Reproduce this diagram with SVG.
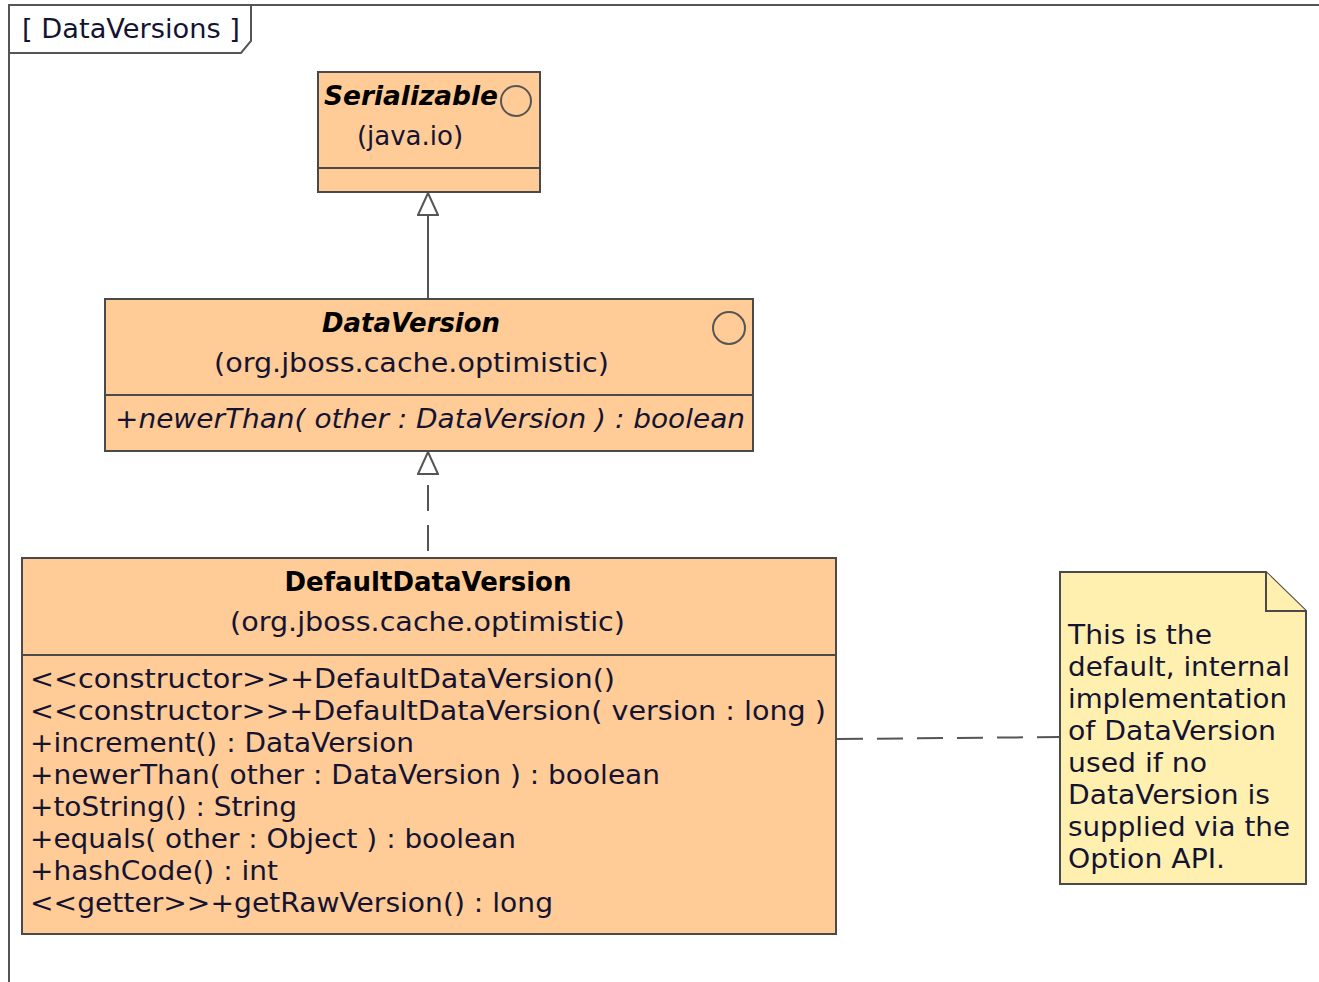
<svg xmlns="http://www.w3.org/2000/svg" width="1319" height="982" viewBox="0 0 1319 982">
<style>
.bg{fill:#ffffff}
.frame{fill:none;stroke:#555;stroke-width:2}
.cls{fill:#FFCB96;stroke:#4a4a4a;stroke-width:2}
.div{stroke:#4a4a4a;stroke-width:2}
.note{fill:#FFF0B0;stroke:#4a4a4a;stroke-width:2}
.iface{fill:none;stroke:#555;stroke-width:2}
text{font-family:"DejaVu Sans","Liberation Sans",sans-serif;font-size:26px;fill:#141432}
.t{font-weight:bold;text-anchor:middle;fill:#000}
.ti{font-weight:bold;font-style:italic;fill:#000}
.c{text-anchor:middle}
.it{font-style:italic}
.line{fill:none;stroke:#555;stroke-width:2}
.dash{stroke-dasharray:26,14}
</style>
<defs>
<marker id="tri" markerWidth="26" markerHeight="22" refX="24" refY="11" orient="auto" markerUnits="userSpaceOnUse">
<path d="M2,1 L24,11 L2,21 Z" fill="#fff" stroke="#555" stroke-width="2"/>
</marker>
</defs>
<rect class="bg" x="0" y="0" width="1319" height="982"/>
<g id="frame">
<path class="frame" d="M9,982 L9,5 L1319,5"/>
<path class="frame" d="M9,53 L241,53 L251,41 L251,5"/>
<text x="22" y="38" textLength="218" lengthAdjust="spacingAndGlyphs">[ DataVersions ]</text>
</g>
<g id="connectors">
<line class="line" x1="428" y1="299" x2="428" y2="193" marker-end="url(#tri)"/>
<line class="line dash" x1="428" y1="551" x2="428" y2="452" marker-end="url(#tri)"/>
<line class="line dash" x1="837" y1="739" x2="1060" y2="737" stroke-dasharray="30,22"/>
</g>
<g id="Serializable">
<rect class="cls" x="318" y="72" width="222" height="120"/>
<line class="div" x1="318" y1="168" x2="540" y2="168"/>
<circle class="iface" cx="516" cy="101" r="15"/>
<text class="ti" x="324" y="105" textLength="174" lengthAdjust="spacingAndGlyphs">Serializable</text>
<text class="c" x="410" y="145">(java.io)</text>
</g>
<g id="DataVersion">
<rect class="cls" x="105" y="299" width="648" height="152"/>
<line class="div" x1="105" y1="395" x2="753" y2="395"/>
<circle class="iface" cx="729" cy="328" r="16"/>
<text class="ti" x="322" y="332" textLength="178" lengthAdjust="spacingAndGlyphs">DataVersion</text>
<text x="214" y="372" textLength="395" lengthAdjust="spacingAndGlyphs">(org.jboss.cache.optimistic)</text>
<text class="it" x="115" y="428" textLength="630" lengthAdjust="spacingAndGlyphs">+newerThan( other : DataVersion ) : boolean</text>
</g>
<g id="DefaultDataVersion">
<rect class="cls" x="22" y="558" width="814" height="376"/>
<line class="div" x1="22" y1="655" x2="836" y2="655"/>
<text class="t" x="428" y="591">DefaultDataVersion</text>
<text x="230" y="631" textLength="395" lengthAdjust="spacingAndGlyphs">(org.jboss.cache.optimistic)</text>
<text x="30" y="688" textLength="585" lengthAdjust="spacingAndGlyphs">&lt;&lt;constructor&gt;&gt;+DefaultDataVersion()</text>
<text x="30" y="720" textLength="796" lengthAdjust="spacingAndGlyphs">&lt;&lt;constructor&gt;&gt;+DefaultDataVersion( version : long )</text>
<text x="30" y="752" textLength="384" lengthAdjust="spacingAndGlyphs">+increment() : DataVersion</text>
<text x="30" y="784" textLength="630" lengthAdjust="spacingAndGlyphs">+newerThan( other : DataVersion ) : boolean</text>
<text x="30" y="816" textLength="267" lengthAdjust="spacingAndGlyphs">+toString() : String</text>
<text x="30" y="848" textLength="486" lengthAdjust="spacingAndGlyphs">+equals( other : Object ) : boolean</text>
<text x="30" y="880" textLength="248" lengthAdjust="spacingAndGlyphs">+hashCode() : int</text>
<text x="30" y="912" textLength="523" lengthAdjust="spacingAndGlyphs">&lt;&lt;getter&gt;&gt;+getRawVersion() : long</text>
</g>
<g id="note">
<path class="note" d="M1060,572 L1266,572 L1306,611 L1306,884 L1060,884 Z"/>
<path class="note" d="M1266,572 L1266,611 L1306,611"/>
<text x="1068" y="644" textLength="144" lengthAdjust="spacingAndGlyphs">This is the</text>
<text x="1068" y="676" textLength="222" lengthAdjust="spacingAndGlyphs">default, internal</text>
<text x="1068" y="708" textLength="219" lengthAdjust="spacingAndGlyphs">implementation</text>
<text x="1068" y="740" textLength="208" lengthAdjust="spacingAndGlyphs">of DataVersion</text>
<text x="1068" y="772" textLength="139" lengthAdjust="spacingAndGlyphs">used if no</text>
<text x="1068" y="804" textLength="202" lengthAdjust="spacingAndGlyphs">DataVersion is</text>
<text x="1068" y="836" textLength="222" lengthAdjust="spacingAndGlyphs">supplied via the</text>
<text x="1068" y="868" textLength="157" lengthAdjust="spacingAndGlyphs">Option API.</text>
</g>
</svg>
